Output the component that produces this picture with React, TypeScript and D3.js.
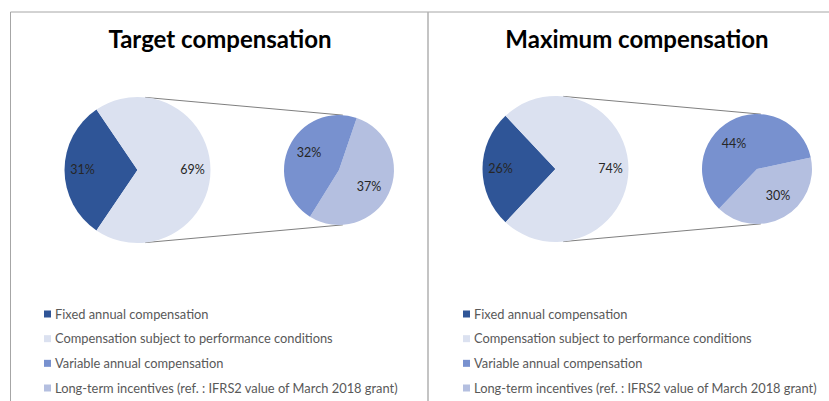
import React from "react";
import * as d3 from "d3";

// chart data
const panelTitles = ["Target compensation", "Maximum compensation"];
const mainLabels = ["Fixed annual compensation", "Compensation subject to performance conditions"];
const subLabels = ["Long-term incentives (ref. : IFRS2 value of March 2018 grant)", "Variable annual compensation"];
const mainValues = [
  [31, 69],
  [26, 74],
];
const subValues = [
  [37, 32],
  [30, 44],
];
const legendItems = [
  "Fixed annual compensation",
  "Compensation subject to performance conditions",
  "Variable annual compensation",
  "Long-term incentives (ref. : IFRS2 value of March 2018 grant)",
];

const colors: Record<string, string> = {
  "Fixed annual compensation": "#2f5597",
  "Compensation subject to performance conditions": "#dbe1f0",
  "Variable annual compensation": "#7891cf",
  "Long-term incentives (ref. : IFRS2 value of March 2018 grant)": "#b4bfe0",
};

const W = 829;
const H = 401;
const FONT = "Lato, 'Open Sans', sans-serif";

// layout of each panel
const panels = [
  { titleX: 220, mainC: [137.5, 170], subC: [339, 170], subStart: 18.8, legendX: 44, labelOffsets: [[-55, 0], [55, 0]], subLabelOffsets: [[30, 17], [-30, -17]] },
  { titleX: 637, mainC: [555.5, 169], subC: [757, 169], subStart: 77.8, legendX: 463, labelOffsets: [[-55, 0], [55, 0]], subLabelOffsets: [[21, 27], [-23, -25]] },
];
const R_MAIN = 73;
const R_SUB = 55;
const legendY = d3.scaleLinear().domain([0, 3]).range([314, 388]);
const rad = (deg: number) => (deg * Math.PI) / 180;

function Panel({ idx }: { idx: number }) {
  const p = panels[idx];
  const mv = mainValues[idx];
  const sv = subValues[idx];
  const fixedShare = mv[0] / (mv[0] + mv[1]);
  const mainPie = d3
    .pie<number>()
    .sort(null)
    .startAngle(1.5 * Math.PI - Math.PI * fixedShare)
    .endAngle(1.5 * Math.PI - Math.PI * fixedShare + 2 * Math.PI);
  const subPie = d3
    .pie<number>()
    .sort(null)
    .startAngle(rad(p.subStart))
    .endAngle(rad(p.subStart) + 2 * Math.PI);
  const arcMain = d3.arc<d3.PieArcDatum<number>>().innerRadius(0).outerRadius(R_MAIN);
  const arcSub = d3.arc<d3.PieArcDatum<number>>().innerRadius(0).outerRadius(R_SUB);

  const mArcs = mainPie(mv);
  const sArcs = subPie(sv);

  // connector lines: from main pie top/bottom to sub pie top/bottom
  const a1 = rad(6);
  const a2 = rad(4);
  const [mx, my] = p.mainC;
  const [sx, sy] = p.subC;
  const top = [mx + R_MAIN * Math.sin(a1), my - R_MAIN * Math.cos(a1), sx + R_SUB * Math.sin(a2), sy - R_SUB * Math.cos(a2)];
  const bot = [mx + R_MAIN * Math.sin(a1), my + R_MAIN * Math.cos(a1), sx + R_SUB * Math.sin(a2), sy + R_SUB * Math.cos(a2)];

  return (
    <g>
      <text x={p.titleX} y={48} textAnchor="middle" fontFamily={FONT} fontWeight="bold" fontSize={24} fill="#000">
        {panelTitles[idx]}
      </text>
      <line x1={top[0]} y1={top[1]} x2={top[2]} y2={top[3]} stroke="#7f7f7f" strokeWidth={1} />
      <line x1={bot[0]} y1={bot[1]} x2={bot[2]} y2={bot[3]} stroke="#7f7f7f" strokeWidth={1} />
      <g transform={`translate(${mx},${my})`}>
        {mArcs.map((a, i) => (
          <path key={i} d={arcMain(a) || ""} fill={colors[mainLabels[i]]} />
        ))}
        {mv.map((v, i) => (
          <text key={i} x={p.labelOffsets[i][0]} y={p.labelOffsets[i][1]} dy="0.35em" textAnchor="middle" fontFamily={FONT} fontSize={12.5} fill="#262626">
            {v}%
          </text>
        ))}
      </g>
      <g transform={`translate(${sx},${sy})`}>
        {sArcs.map((a, i) => (
          <path key={i} d={arcSub(a) || ""} fill={colors[subLabels[i]]} />
        ))}
        {sv.map((v, i) => (
          <text key={i} x={p.subLabelOffsets[i][0]} y={p.subLabelOffsets[i][1]} dy="0.35em" textAnchor="middle" fontFamily={FONT} fontSize={12.5} fill="#262626">
            {v}%
          </text>
        ))}
      </g>
      {legendItems.map((l, i) => (
        <g key={l} transform={`translate(${p.legendX},${legendY(i)})`}>
          <rect x={0} y={-3.5} width={7} height={7} fill={colors[l]} />
          <text x={11} y={0} dy="0.35em" fontFamily={FONT} fontSize={12.85} fill="#595959">
            {l}
          </text>
        </g>
      ))}
    </g>
  );
}

export default function App() {
  return (
    <svg width={W} height={H} style={{ position: "absolute", left: 0, top: 0, background: "#fff" }}>
      <rect x={0} y={0} width={W} height={H} fill="#fff" />
      <line x1={10.5} y1={12} x2={W} y2={12} stroke="#a6a6a6" strokeWidth={1} />
      <line x1={10.5} y1={12} x2={10.5} y2={H} stroke="#a6a6a6" strokeWidth={1} />
      <line x1={428} y1={12} x2={428} y2={H} stroke="#b0b0b0" strokeWidth={1.5} />
      <Panel idx={0} />
      <Panel idx={1} />
    </svg>
  );
}
